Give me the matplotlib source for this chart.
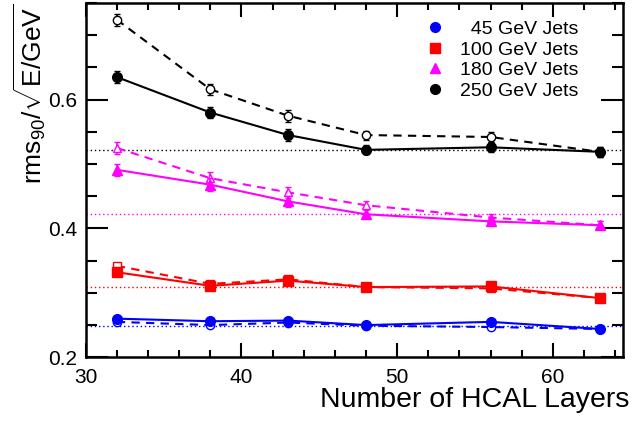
import numpy as np
import matplotlib.pyplot as plt
from matplotlib.ticker import MultipleLocator

plt.rcParams['font.family'] = ['Liberation Sans', 'DejaVu Sans']
plt.rcParams['mathtext.fontset'] = 'custom'
plt.rcParams['mathtext.rm'] = 'Liberation Sans'
plt.rcParams['mathtext.it'] = 'Liberation Sans:italic'

# numero de capas del HCAL
layers = [32, 38, 43, 48, 56, 63]

# resolucion (marcadores llenos, linea continua)
res45 = [0.260, 0.256, 0.257, 0.250, 0.255, 0.244]
res100 = [0.332, 0.311, 0.319, 0.309, 0.310, 0.292]
res180 = [0.491, 0.468, 0.442, 0.422, 0.411, 0.405]
res250 = [0.635, 0.580, 0.545, 0.522, 0.526, 0.519]

# resolucion (marcadores abiertos, linea discontinua)
alt45 = [0.255, 0.250, 0.254, 0.249, 0.247, 0.244]
alt100 = [0.342, 0.314, 0.321, 0.309, 0.307, 0.292]
alt180 = [0.525, 0.478, 0.456, 0.436, 0.417, 0.405]
alt250 = [0.724, 0.616, 0.575, 0.545, 0.542, 0.519]

# errores
err45 = [0.003, 0.003, 0.003, 0.003, 0.003, 0.003]
err100 = [0.004, 0.004, 0.004, 0.004, 0.004, 0.004]
err180 = [0.009, 0.010, 0.008, 0.006, 0.006, 0.006]
err250 = [0.009, 0.009, 0.009, 0.007, 0.008, 0.008]

# referencias horizontales
refs = [0.249, 0.309, 0.423, 0.522]

labels = ["  45 GeV Jets", "100 GeV Jets", "180 GeV Jets", "250 GeV Jets"]
colors = ["#0000ff", "#ff0000", "#ff00ff", "#000000"]
markers = ["o", "s", "^", "o"]

fig = plt.figure(figsize=(6.33, 4.21), dpi=100)
ax = fig.add_axes([0.1354, 0.1513, 0.984 - 0.1354, 0.9929 - 0.1513])

full = [res45, res100, res180, res250]
alts = [alt45, alt100, alt180, alt250]
errs = [err45, err100, err180, err250]

for i in range(4):
    c = colors[i]
    ax.axhline(refs[i], color=c, ls=(0, (1, 2)), lw=1.0, zorder=1)
    ax.errorbar(layers, alts[i], yerr=errs[i], color=c, marker=markers[i], mfc="white",
                mec=c, ms=6, lw=1.5, ls=(0, (4, 3)), capsize=2, elinewidth=1.2, zorder=2)
    ax.errorbar(layers, full[i], yerr=errs[i], color=c, marker=markers[i], ms=7,
                lw=1.5, capsize=2, elinewidth=1.2, zorder=3)
    ax.plot([], [], ls="none", marker=markers[i], color=c, ms=7, label=labels[i])

ax.set_xlim(30, 64.5)
ax.set_ylim(0.2, 0.75)
ax.xaxis.set_major_locator(MultipleLocator(10))
ax.xaxis.set_minor_locator(MultipleLocator(2))
ax.yaxis.set_major_locator(MultipleLocator(0.2))
ax.yaxis.set_minor_locator(MultipleLocator(0.05))
ax.yaxis.set_major_formatter(plt.FuncFormatter(lambda v, p: "{:.1f}".format(v)))

ax.tick_params(axis="both", which="both", direction="in", top=True, right=True,
               width=1.5, labelsize=15)
ax.tick_params(axis="x", which="major", length=10, pad=8)
ax.tick_params(axis="x", which="minor", length=5)
ax.tick_params(axis="y", which="major", length=16, pad=6)
ax.tick_params(axis="y", which="minor", length=8)
for s in ax.spines.values():
    s.set_linewidth(1.8)

ax.set_xlabel("Number of HCAL Layers", fontsize=20.5, loc="right")
ax.xaxis.set_label_coords(1.013, -0.085, transform=ax.transAxes)
ax.xaxis.label.set_va("top")
ax.set_ylabel(r"rms$_{90}$/$\sqrt{\mathrm{E/GeV}}$", fontsize=19, loc="top")
ax.yaxis.set_label_coords(-0.07, 1.0)

ax.legend(loc="upper right", bbox_to_anchor=(0.95, 1.0), frameon=False, fontsize=14,
          handletextpad=0.8, labelspacing=0.15, handlelength=1.0)

plt.savefig("out.png", dpi=100)
